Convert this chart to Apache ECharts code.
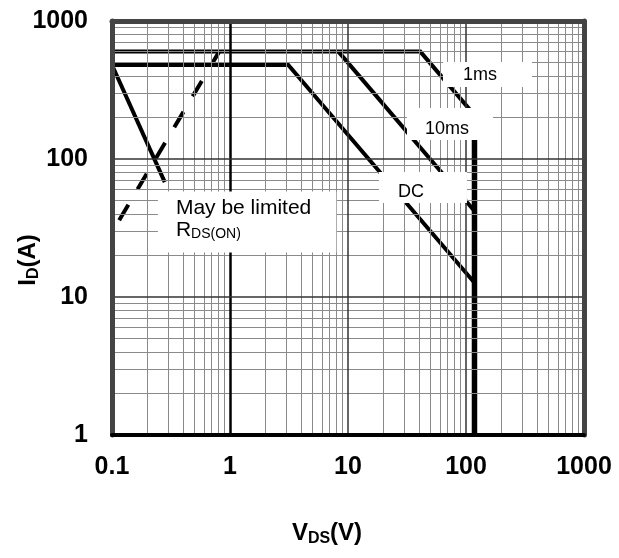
<!DOCTYPE html>
<html>
<head>
<meta charset="utf-8">
<script src="https://cdn.jsdelivr.net/npm/echarts@6/dist/echarts.min.js"></script>
<style>
html, body { margin: 0; padding: 0; background: #fff; }
#chart { width: 619px; height: 558px; }
</style>
</head>
<body>
<div id="chart"></div>
<script>
// safe operating area (V, A)
var xTicks = [0.1, 1, 10, 100, 1000];
var yTicks = [1, 10, 100, 1000];
var minorSteps = [2, 3, 4, 5, 6, 7, 8, 9];

var curve1ms = [[0.1, 600], [41, 600], [118, 208]];
var curve10ms = [[8.3, 600], [118, 42]];
var curveDC = [[0.1, 480], [3.12, 480], [118, 12.7]];
var curveVds = [[118, 208], [118, 1]];
var curveSteep = [[0.1, 480], [0.28, 68]];
var curveRds = [[0.115, 36], [0.81, 600]];

var noteTexts = ['1ms', '10ms', 'DC', '{t|May be limited}\n{r|R}{s|DS(ON)}'];
var notePoints = [[63.8, 409], [31.6, 179.5], [18.3, 62.2], [0.245, 34.9]];

var FONT = "'Liberation Sans', Arial, sans-serif";

// grid lines (minor 2..9 per decade, majors at the inner decades)
var gridLines = [];
xTicks.slice(0, -1).forEach(function (d) {
    minorSteps.forEach(function (k) { gridLines.push({ xAxis: d * k }); });
});
yTicks.slice(0, -1).forEach(function (d) {
    minorSteps.forEach(function (k) { gridLines.push({ yAxis: d * k }); });
});
xTicks.slice(1, -1).forEach(function (d) {
    gridLines.push({ xAxis: d, lineStyle: { color: d === 1 ? '#000' : '#333', width: d === 1 ? 2.5 : 1.5 } });
});
yTicks.slice(1, -1).forEach(function (d) {
    gridLines.push({ yAxis: d, lineStyle: { color: '#333', width: 1.5 } });
});

var notePadding = [[4, 35, 3, 20], [12, 24, 2, 18], [11, 43, 2, 19], [6, 25, 11, 18]];

function curve(data, width, dashed) {
    return {
        type: 'line',
        data: data,
        symbol: 'none',
        z: 3,
        silent: true,
        lineStyle: {
            color: '#000',
            width: width,
            type: dashed ? [18, 18] : 'solid',
            cap: 'butt',
            join: 'miter'
        }
    };
}

var chart = echarts.init(document.getElementById('chart'));

var option = {
    animation: false,
    backgroundColor: '#fff',
    grid: { left: 112, right: 35, top: 21, bottom: 123, containLabel: false, outerBoundsMode: 'none' },
    xAxis: [{
        type: 'log',
        logBase: 10,
        min: 0.1,
        max: 1000,
        z: 5,
        name: '{b|V}{s|DS}{b|(V)}',
        nameLocation: 'middle',
        nameGap: 84,
        nameMoveOverlap: false,
        nameTextStyle: {
            padding: [0, 42, 0, 0],
            rich: {
                b: { fontSize: 24, fontWeight: 'bold', fontFamily: FONT, color: '#000', lineHeight: 28 },
                s: { fontSize: 16, fontWeight: 'bold', fontFamily: FONT, color: '#000', lineHeight: 18, verticalAlign: 'bottom' }
            }
        },
        axisLine: { show: true, onZero: false, lineStyle: { color: '#000', width: 4 } },
        axisTick: { show: false },
        splitLine: { show: false },
        axisLabel: {
            margin: 20,
            fontSize: 25,
            fontWeight: 'bold',
            fontFamily: FONT,
            color: '#000',
            formatter: function (v) { return String(v); }
        }
    }, {
        type: 'log',
        logBase: 10,
        min: 0.1,
        max: 1000,
        position: 'top',
        z: 5,
        axisLine: { show: true, onZero: false, lineStyle: { color: '#444', width: 5 } },
        axisTick: { show: false },
        axisLabel: { show: false },
        splitLine: { show: false }
    }],
    yAxis: [{
        type: 'log',
        logBase: 10,
        min: 1,
        max: 1000,
        z: 5,
        name: '{b|I}{s|D}{b|(A)}',
        nameLocation: 'middle',
        nameGap: 70,
        nameRotate: 90,
        nameMoveOverlap: false,
        nameTextStyle: {
            padding: [0, 64, 0, 0],
            rich: {
                b: { fontSize: 24, fontWeight: 'bold', fontFamily: FONT, color: '#000', lineHeight: 28 },
                s: { fontSize: 16, fontWeight: 'bold', fontFamily: FONT, color: '#000', lineHeight: 18, verticalAlign: 'bottom' }
            }
        },
        axisLine: { show: true, onZero: false, lineStyle: { color: '#444', width: 5 } },
        axisTick: { show: false },
        splitLine: { show: false },
        axisLabel: {
            margin: 24,
            fontSize: 25,
            fontWeight: 'bold',
            fontFamily: FONT,
            color: '#000',
            formatter: function (v) { return String(v); }
        }
    }, {
        type: 'log',
        logBase: 10,
        min: 1,
        max: 1000,
        position: 'right',
        z: 5,
        axisLine: { show: true, onZero: false, lineStyle: { color: '#444', width: 5 } },
        axisTick: { show: false },
        axisLabel: { show: false },
        splitLine: { show: false }
    }],
    series: [
        {
            type: 'line',
            data: [],
            z: 1,
            silent: true,
            markLine: {
                silent: true,
                symbol: ['none', 'none'],
                label: { show: false },
                lineStyle: { color: '#8a8a8a', width: 1, type: 'solid' },
                emphasis: { disabled: true },
                data: gridLines
            }
        },
        curve(curve1ms, 4),
        curve(curve10ms, 4),
        curve(curveDC, 4),
        curve(curveVds, 5.5),
        curve(curveSteep, 4),
        curve(curveRds, 4, true),
        {
            type: 'scatter',
            z: 10,
            silent: true,
            symbolSize: 0,
            itemStyle: { opacity: 1 },
            data: notePoints.map(function (p, i) {
                return { value: p, label: { formatter: noteTexts[i], padding: notePadding[i] } };
            }),
            label: {
                show: true,
                position: 'right',
                distance: 0,
                align: 'left',
                verticalAlign: 'middle',
                opacity: 1,
                backgroundColor: '#fff',
                color: '#000',
                textBorderWidth: 0,
                fontFamily: FONT,
                fontSize: 18,
                lineHeight: 18,
                rich: {
                    t: { fontSize: 21, lineHeight: 22, fontFamily: FONT, color: '#000' },
                    r: { fontSize: 21, lineHeight: 22, fontFamily: FONT, color: '#000' },
                    s: { fontSize: 14, lineHeight: 10, fontFamily: FONT, color: '#000', verticalAlign: 'bottom' }
                }
            }
        }
    ]
};

chart.setOption(option);
</script>
</body>
</html>
